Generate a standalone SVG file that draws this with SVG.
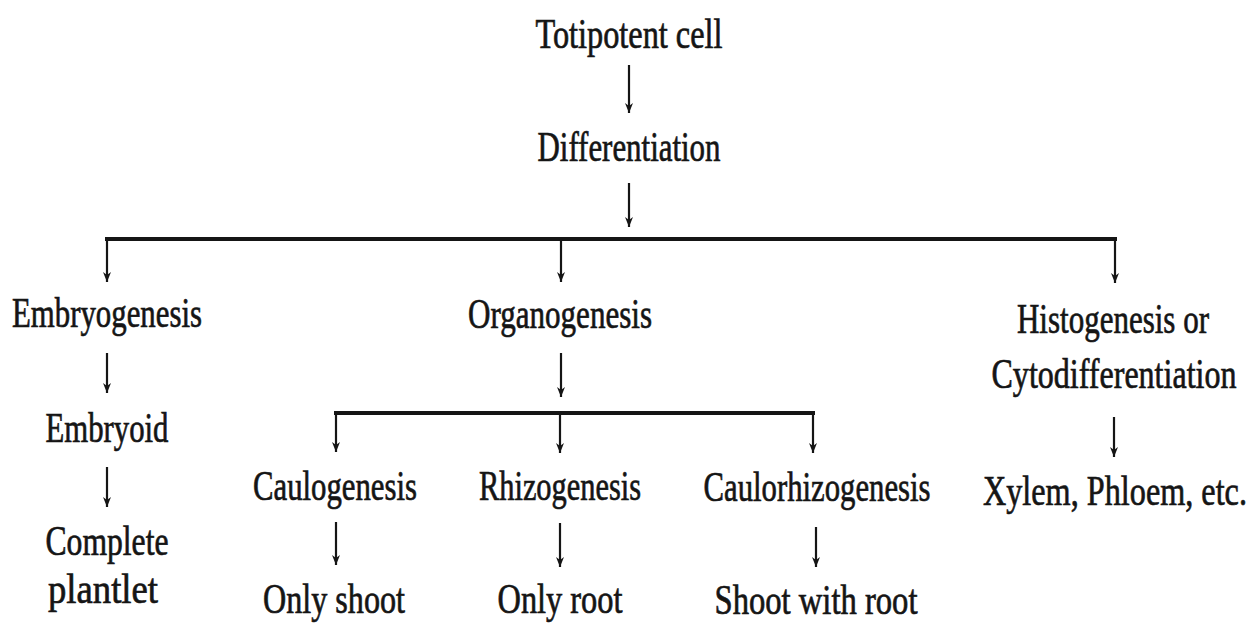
<svg xmlns="http://www.w3.org/2000/svg" width="1253" height="625" viewBox="0 0 1253 625">
<style>
  text { font-family: "Liberation Serif", "DejaVu Serif", serif; font-size: 30px; fill: #151515; stroke: #151515; stroke-width: 0.5; text-anchor: middle; }
  .shaft { fill: none; stroke: #151515; stroke-width: 2.2; }
  .bar { fill: none; stroke: #151515; stroke-width: 4; }
</style>
<defs>
  <marker id="ah" markerUnits="userSpaceOnUse" markerWidth="12" markerHeight="14" refX="5" refY="12" orient="0" viewBox="0 0 10 14">
    <path d="M1,2 L5,12 L9,2 L5,5 Z" fill="#151515"/>
  </marker>
</defs>
<rect width="1253" height="625" fill="#ffffff"/>
<g id="connectors">
  <path class="shaft" d="M629,65 V113" marker-end="url(#ah)"/>
  <path class="shaft" d="M629,183 V227" marker-end="url(#ah)"/>
  <path class="bar" d="M107,241 V239 H1115 V241"/>
  <path class="shaft" d="M107,239 V282" marker-end="url(#ah)"/>
  <path class="shaft" d="M561,239 V282" marker-end="url(#ah)"/>
  <path class="shaft" d="M1115,239 V283" marker-end="url(#ah)"/>
  <path class="shaft" d="M107,353 V393" marker-end="url(#ah)"/>
  <path class="shaft" d="M107,467 V507" marker-end="url(#ah)"/>
  <path class="shaft" d="M561,353 V397" marker-end="url(#ah)"/>
  <path class="bar" d="M336,415 V413 H813 V415"/>
  <path class="shaft" d="M336,413 V452" marker-end="url(#ah)"/>
  <path class="shaft" d="M560,413 V453" marker-end="url(#ah)"/>
  <path class="shaft" d="M813,413 V453" marker-end="url(#ah)"/>
  <path class="shaft" d="M336,522 V565" marker-end="url(#ah)"/>
  <path class="shaft" d="M560,523 V567" marker-end="url(#ah)"/>
  <path class="shaft" d="M816,527 V567" marker-end="url(#ah)"/>
  <path class="shaft" d="M1114,417 V457" marker-end="url(#ah)"/>
</g>
<g transform="scale(1,1.4)">
<g id="totipotent"><text x="629" y="34.3" textLength="187" lengthAdjust="spacingAndGlyphs">Totipotent cell</text></g>
<g id="differentiation"><text x="629" y="115" textLength="183" lengthAdjust="spacingAndGlyphs">Differentiation</text></g>
<g id="embryogenesis"><text x="107" y="233.6" textLength="190" lengthAdjust="spacingAndGlyphs">Embryogenesis</text></g>
<g id="organogenesis"><text x="560" y="234.3" textLength="184" lengthAdjust="spacingAndGlyphs">Organogenesis</text></g>
<g id="histogenesis">
  <text x="1113" y="237.9" textLength="192" lengthAdjust="spacingAndGlyphs">Histogenesis or</text>
  <text x="1114" y="277.1" textLength="245" lengthAdjust="spacingAndGlyphs">Cytodifferentiation</text>
</g>
<g id="embryoid"><text x="107" y="315.7" textLength="123" lengthAdjust="spacingAndGlyphs">Embryoid</text></g>
<g id="caulogenesis"><text x="335" y="357.1" textLength="164" lengthAdjust="spacingAndGlyphs">Caulogenesis</text></g>
<g id="rhizogenesis"><text x="560" y="357.1" textLength="162" lengthAdjust="spacingAndGlyphs">Rhizogenesis</text></g>
<g id="caulorhizogenesis"><text x="817" y="357.9" textLength="227" lengthAdjust="spacingAndGlyphs">Caulorhizogenesis</text></g>
<g id="xylem"><text x="1115" y="360.7" textLength="264" lengthAdjust="spacingAndGlyphs">Xylem, Phloem, etc.</text></g>
<g id="plantlet">
  <text x="107" y="396.4" textLength="123" lengthAdjust="spacingAndGlyphs">Complete</text>
  <text x="103" y="430.7" textLength="110" lengthAdjust="spacingAndGlyphs">plantlet</text>
</g>
<g id="only-shoot"><text x="334" y="437.9" textLength="142" lengthAdjust="spacingAndGlyphs">Only shoot</text></g>
<g id="only-root"><text x="560" y="437.9" textLength="125" lengthAdjust="spacingAndGlyphs">Only root</text></g>
<g id="shoot-with-root"><text x="816" y="438.6" textLength="203" lengthAdjust="spacingAndGlyphs">Shoot with root</text></g>
</g>
</svg>
